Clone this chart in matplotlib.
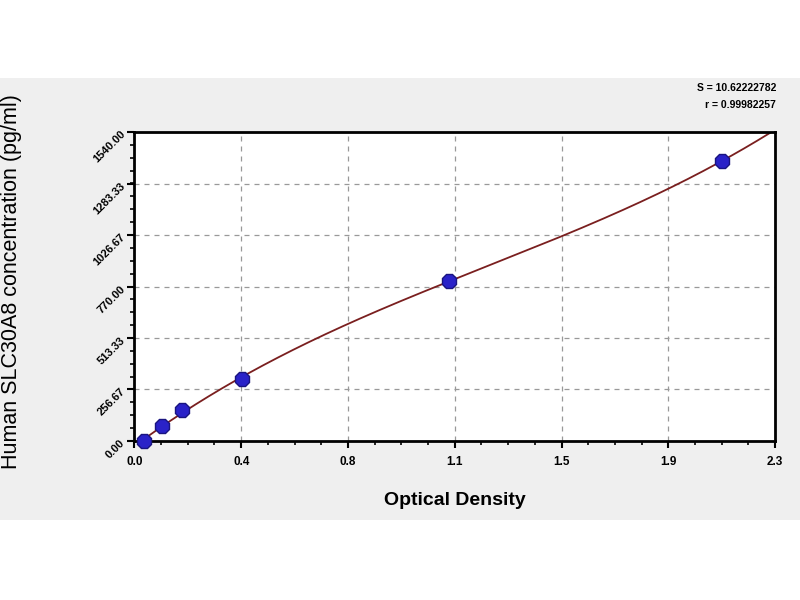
import matplotlib
matplotlib.use("Agg")
import matplotlib.pyplot as plt
import numpy as np
from matplotlib.patches import Rectangle
from matplotlib.ticker import AutoMinorLocator

# standards
od = [0.035, 0.098, 0.172, 0.386, 1.13, 2.108]
conc = [0.0, 75.0, 155.0, 310.0, 797.0, 1395.0]

x_ticks = [0.0, 0.3833, 0.7667, 1.15, 1.5333, 1.9167, 2.3]
x_labels = ["0.0", "0.4", "0.8", "1.1", "1.5", "1.9", "2.3"]
y_ticks = [0.0, 256.67, 513.33, 770.0, 1026.67, 1283.33, 1540.0]
y_labels = ["0.00", "256.67", "513.33", "770.00", "1026.67", "1283.33", "1540.00"]

fit_text = ["S = 10.62222782", "r = 0.99982257"]

plt.rcParams["font.family"] = ["Liberation Sans", "DejaVu Sans"]


def main() -> None:
    fig = plt.figure(figsize=(8, 6), dpi=100, facecolor="white")
    bg = Rectangle((0, 0.1333), 1, 0.7367, transform=fig.transFigure,
                   facecolor="#efefef", edgecolor="none", zorder=-10)
    fig.add_artist(bg)

    ax = fig.add_axes([0.168, 0.265, 0.801, 0.515])
    ax.set_facecolor("white")

    coef = np.polyfit(od, conc, 3)
    xs = np.linspace(od[0], 2.35, 300)
    ax.plot(xs, np.polyval(coef, xs), color="#7a1f1f", lw=1.3, zorder=2)
    ax.plot(od, conc, linestyle="none", marker="8", markersize=10.5,
            markerfacecolor="#2a22c8", markeredgecolor="#1a1580", zorder=3,
            clip_on=False)

    ax.set_xlim(0, 2.3)
    ax.set_ylim(0, 1540)
    ax.set_xticks(x_ticks)
    ax.set_xticklabels(x_labels, fontsize=8.5, fontweight="bold")
    ax.set_yticks(y_ticks)
    ax.set_yticklabels(y_labels, fontsize=8, fontweight="bold", rotation=45,
                       ha="right", rotation_mode="anchor")
    ax.xaxis.set_minor_locator(AutoMinorLocator(4))
    ax.yaxis.set_minor_locator(AutoMinorLocator(4))
    ax.tick_params(which="major", direction="out", length=5, width=1.5)
    ax.tick_params(axis="x", which="major", pad=6)
    ax.tick_params(which="minor", direction="out", length=3, width=1.2)
    ax.grid(True, which="major", linestyle=(0, (4, 4)), color="#999999", lw=0.9)
    for s in ax.spines.values():
        s.set_linewidth(2)

    ax.set_xlabel("Optical Density", fontsize=14, fontweight="bold")
    ax.xaxis.set_label_coords(0.5, -0.165)
    ax.set_ylabel("Human SLC30A8 concentration (pg/ml)", fontsize=15.5)
    ax.yaxis.set_label_coords(-0.176, 0.515)

    fig.text(0.97, 0.853, fit_text[0], ha="right", va="center", fontsize=7.5,
             fontweight="bold")
    fig.text(0.97, 0.825, fit_text[1], ha="right", va="center", fontsize=7.5,
             fontweight="bold")

    fig.savefig("out.png", dpi=100, facecolor=fig.get_facecolor())


if __name__ == "__main__":
    main()
